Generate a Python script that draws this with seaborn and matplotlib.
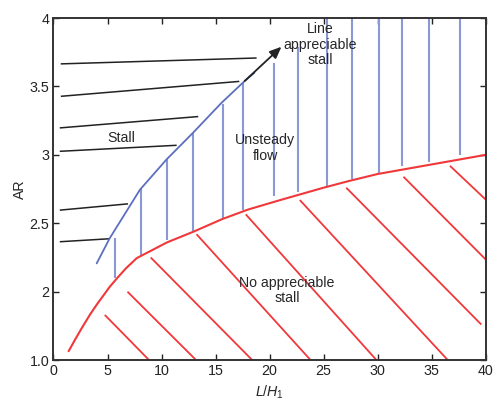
import numpy as np
import pandas as pd
import matplotlib
matplotlib.use("Agg")
import matplotlib.pyplot as plt
import seaborn as sns

# ---- data ----
# boundary of "no appreciable stall" (red)
red_x = [1.4, 2.0, 2.7, 3.4, 4.0, 4.6, 5.2, 5.9, 6.7, 7.7, 10.5, 13.0, 15.6, 18.0, 21.0, 25.0, 27.4, 30.0, 35.0, 40.0]
red_y = [1.565, 1.65, 1.745, 1.835, 1.905, 1.97, 2.035, 2.1, 2.17, 2.245, 2.36, 2.44, 2.53, 2.6, 2.67, 2.76, 2.81, 2.86, 2.93, 3.0]

# boundary of "stall" (blue)
blue_x = [4.0, 5.2, 8.0, 10.46, 12.9, 15.55, 17.7, 18.6]
blue_y = [2.207, 2.39, 2.745, 2.966, 3.16, 3.38, 3.54, 3.6]

# arrow "line of appreciable stall"
arrow_start = (17.7, 3.54)
arrow_end = (21.1, 3.79)

# vertical hatch (unsteady flow)
vh_x = [5.68, 8.1, 10.5, 12.9, 15.65, 17.55, 20.4, 22.65, 25.3, 27.6, 30.15, 32.3, 34.75, 37.6]
vh_top = [2.39, 2.75, 2.97, 3.16, 3.375, 3.525, 3.67, 3.79, 4.0, 4.0, 4.0, 4.0, 4.0, 4.0]
vh_bot = [2.1, 2.27, 2.377, 2.44, 2.54, 2.6, 2.70, 2.73, 2.77, 2.82, 2.87, 2.917, 2.95, 3.0]

# near-horizontal hatch (stall)
st_x0 = [0.67, 0.68, 0.58, 0.58, 0.58, 0.58]
st_y0 = [3.665, 3.428, 3.197, 3.026, 2.596, 2.365]
st_x1 = [18.8, 17.2, 13.4, 11.4, 6.9, 5.2]
st_y1 = [3.708, 3.537, 3.28, 3.07, 2.642, 2.387]

# diagonal hatch (no appreciable stall)
rh_x0 = [4.75, 6.85, 9.0, 13.24, 17.8, 22.8, 27.1, 32.4, 36.7]
rh_y0 = [1.83, 2.0, 2.25, 2.42, 2.565, 2.67, 2.76, 2.84, 2.92]
rh_x1 = [8.85, 13.2, 18.4, 23.8, 29.9, 36.5, 39.6, 40.0, 40.0]
rh_y1 = [1.5, 1.5, 1.5, 1.5, 1.5, 1.5, 1.76, 2.236, 2.674]

x_ticks = [0, 5, 10, 15, 20, 25, 30, 35, 40]
y_ticks = [1.5, 2.0, 2.5, 3.0, 3.5, 4.0]
y_tick_labels = ["1.0", "2", "2.5", "3", "3.5", "4"]

# ---- styling ----
sns.set_style("ticks")
plt.rcParams['font.family'] = ['Liberation Sans', 'DejaVu Sans']
plt.rcParams['mathtext.fontset'] = 'custom'
plt.rcParams['mathtext.it'] = 'Liberation Sans:italic'
plt.rcParams['mathtext.rm'] = 'Liberation Sans'

BLUE = "#5c6fbf"
BLUE_H = "#8a99d5"
RED = "#f0383b"
DARK = "#222222"

fig = plt.figure(figsize=(4.93, 4.01), dpi=100)
ax = fig.add_axes([0.1085, 0.102, 0.8765, 0.853])

# hatch lines
for x0, y0, x1, y1 in zip(st_x0, st_y0, st_x1, st_y1):
    ax.plot([x0, x1], [y0, y1], color=DARK, lw=1.1, solid_capstyle='butt')
ax.vlines(vh_x, vh_bot, vh_top, color=BLUE_H, lw=1.5)
for x0, y0, x1, y1 in zip(rh_x0, rh_y0, rh_x1, rh_y1):
    ax.plot([x0, x1], [y0, y1], color=RED, lw=1.3, solid_capstyle='butt')

# boundary curves
sns.lineplot(x=red_x, y=red_y, sort=False, color=RED, lw=1.5, ax=ax)
sns.lineplot(x=blue_x, y=blue_y, sort=False, color=BLUE, lw=1.3, ax=ax)

ax.annotate("", xy=arrow_end, xytext=arrow_start,
            arrowprops=dict(arrowstyle="-|>,head_length=0.7,head_width=0.3",
                            color=DARK, lw=1.3, shrinkA=0, shrinkB=0))

fs = 10.2
ax.text(6.3, 3.12, "Stall", ha="center", va="center", fontsize=fs)
ax.text(19.6, 3.05, "Unsteady\nflow", ha="center", va="center", fontsize=fs, linespacing=1.12)
ax.text(24.66, 3.805, "Line\nappreciable\nstall", ha="center", va="center", fontsize=fs, linespacing=1.12)
ax.text(21.6, 2.01, "No appreciable\nstall", ha="center", va="center", fontsize=fs, linespacing=1.12)

ax.set_xlim(0, 40)
ax.set_ylim(1.5, 4.0)
ax.set_xticks(x_ticks)
ax.set_yticks(y_ticks)
ax.set_yticklabels(y_tick_labels)
ax.tick_params(direction="in", length=4, width=1.0, top=True, right=True,
               labelsize=10.3, colors=DARK, pad=3)
for s in ax.spines.values():
    s.set_color("#333333")
    s.set_linewidth(1.4)

ax.set_xlabel("$L/H_1$", fontsize=fs, labelpad=4)
ax.set_ylabel("AR", fontsize=fs, labelpad=2)

fig.savefig("out.png", dpi=100)
